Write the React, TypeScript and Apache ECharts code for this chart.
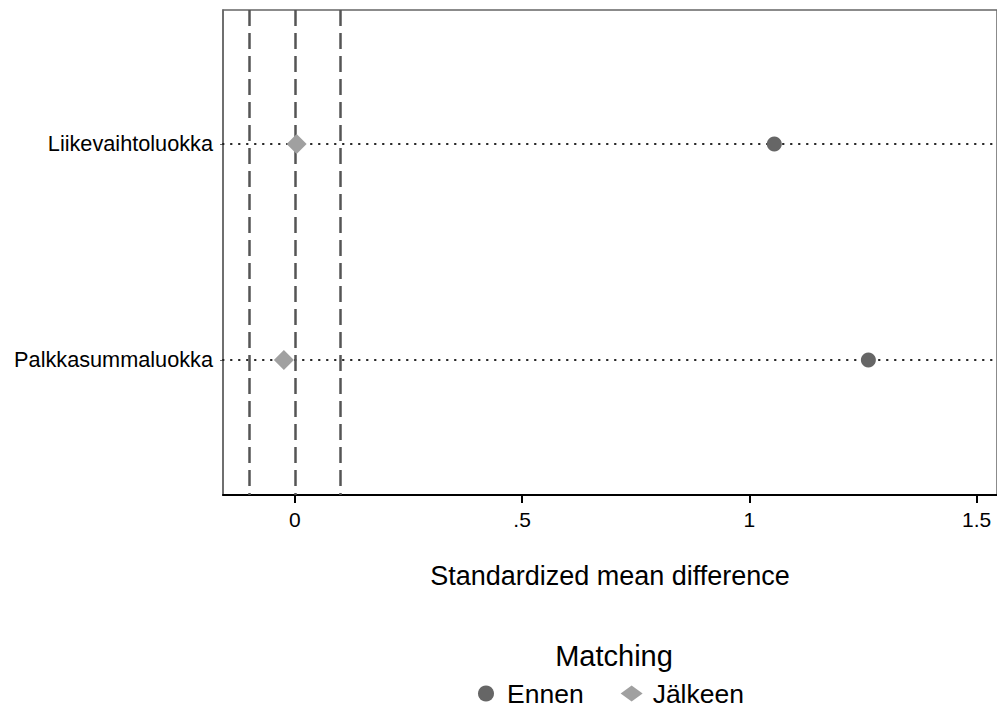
import React, { useEffect, useRef } from "react";
import * as echarts from "echarts";

const categories = ["Liikevaihtoluokka", "Palkkasummaluokka"];
const ennenValues = [1.055, 1.262];
const jalkeenValues = [0.004, -0.024];
const refLines = [-0.1, 0, 0.1];
const xTicks = [0, 0.5, 1, 1.5];
const xTickLabels = ["0", ".5", "1", "1.5"];

const FONT = "Liberation Sans, Arial, sans-serif";

export default function App() {
  const ref = useRef<HTMLDivElement>(null);
  useEffect(() => {
    if (!ref.current) return;
    const chart = echarts.init(ref.current, undefined, { renderer: "svg" });
    const rowPos = categories.map((_, i) => i + 1);
    chart.setOption({
      animation: false,
      backgroundColor: "#ffffff",
      textStyle: { fontFamily: FONT },
      title: {
        text: "Matching",
        left: 614,
        top: 641,
        padding: 0,
        textAlign: "center",
        textStyle: { fontFamily: FONT, fontSize: 29, fontWeight: "normal", color: "#000" },
      },
      legend: {
        left: 478,
        top: 680,
        padding: 0,
        itemGap: 37,
        itemWidth: 22,
        itemHeight: 16,
        textStyle: { fontFamily: FONT, fontSize: 26.5, lineHeight: 26, color: "#000", padding: [0, 0, 0, 5] },
        data: [
          { name: "Ennen", icon: "circle", itemStyle: { color: "#666666" } },
          { name: "Jälkeen", icon: "diamond", itemStyle: { color: "#a0a0a0" } },
        ],
      },
      grid: { left: 223, top: 10, right: -2, bottom: 213, show: true, borderColor: "#666", borderWidth: 1.5, containLabel: false },
      xAxis: {
        type: "value",
        min: -0.158,
        max: 1.545,
        position: "bottom",
        axisLine: { show: true, onZero: false, lineStyle: { color: "#000", width: 2 } },
        axisTick: { show: true, length: 8, lineStyle: { color: "#000", width: 2 }, customValues: xTicks },
        axisLabel: {
          show: true,
          margin: 14,
          fontSize: 21,
          color: "#000",
          fontFamily: FONT,
          customValues: xTicks,
          formatter: (v: number) => {
            const i = xTicks.findIndex((t) => Math.abs(t - v) < 1e-9);
            return i >= 0 ? xTickLabels[i] : "";
          },
        },
        splitLine: { show: false },
        name: "Standardized mean difference",
        nameLocation: "middle",
        nameGap: 67,
        nameTextStyle: { fontFamily: FONT, fontSize: 27, color: "#000" },
      },
      yAxis: {
        type: "value",
        min: 0.38,
        max: 2.625,
        inverse: true,
        position: "left",
        axisLine: { show: true, onZero: false, lineStyle: { color: "#666", width: 1.5 } },
        axisTick: { show: true, length: 3, lineStyle: { color: "#666" }, customValues: rowPos },
        axisLabel: {
          show: true,
          margin: 10,
          fontSize: 21.7,
          color: "#000",
          fontFamily: FONT,
          customValues: rowPos,
          formatter: (v: number) => {
            const i = Math.round(v) - 1;
            return Math.abs(v - Math.round(v)) < 1e-9 && categories[i] ? categories[i] : "";
          },
        },
        splitLine: { show: false },
      },
      series: [
        {
          name: "guides",
          type: "line",
          data: [],
          silent: true,
          markLine: {
            silent: true,
            symbol: "none",
            label: { show: false },
            animation: false,
            data: [
              ...rowPos.map((p) => ({
                yAxis: p,
                lineStyle: { type: [0.5, 7.5], color: "#222", width: 2.2, cap: "round" },
              })),
              ...refLines.map((v) => ({
                xAxis: v,
                lineStyle: { type: [16, 7], color: "#555", width: 2.5 },
              })),
            ],
          },
        },
        {
          name: "Ennen",
          type: "scatter",
          symbol: "circle",
          symbolSize: 15,
          itemStyle: { color: "#666666", opacity: 1 },
          data: ennenValues.map((v, i) => [v, rowPos[i]]),
          z: 5,
        },
        {
          name: "Jälkeen",
          type: "scatter",
          symbol: "diamond",
          symbolSize: 20,
          itemStyle: { color: "#a0a0a0", opacity: 1 },
          data: jalkeenValues.map((v, i) => [v, rowPos[i]]),
          z: 5,
        },
      ],
    });
    return () => chart.dispose();
  }, []);
  return (
    <div
      ref={ref}
      style={{ position: "fixed", left: 0, top: 0, width: 997, height: 708, background: "#fff" }}
    />
  );
}
